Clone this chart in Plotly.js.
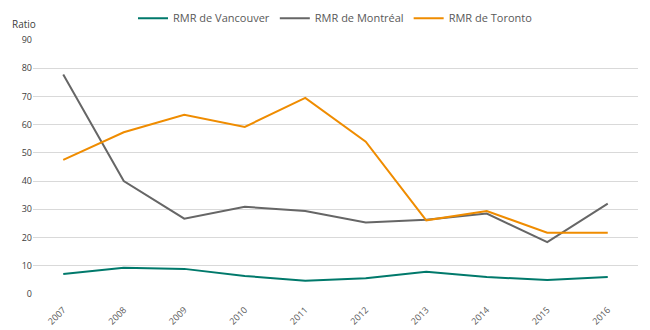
<!DOCTYPE html>
<html>
<head>
<meta charset="utf-8">
<script src="https://cdn.plot.ly/plotly-3.0.1.min.js"></script>
<style>html,body{margin:0;padding:0;background:#fff;}#chart{width:650px;height:330px;}</style>
</head>
<body>
<div id="chart"></div>
<script>
var years = ['2007','2008','2009','2010','2011','2012','2013','2014','2015','2016'];
var vancouver = [7.1, 9.3, 8.9, 6.4, 4.7, 5.6, 7.9, 6.0, 5.0, 6.0];
var montreal = [77.8, 40.0, 26.7, 30.9, 29.4, 25.3, 26.3, 28.5, 18.4, 32.0];
var toronto = [47.5, 57.3, 63.5, 59.2, 69.5, 54.0, 26.1, 29.4, 21.7, 21.7];
var names = ['RMR de Vancouver', 'RMR de Montréal', 'RMR de Toronto'];
var colors = ['#00796b', '#666666', '#ef8c00'];
var series = [vancouver, montreal, toronto];

var traces = series.map(function(s, i) {
  return {x: years, y: s, name: names[i], type: 'scatter', mode: 'lines',
    line: {color: colors[i], width: 2}};
});

var layout = {
  width: 650, height: 330,
  margin: {l: 33, r: 12, t: 40, b: 36},
  paper_bgcolor: '#ffffff', plot_bgcolor: '#ffffff',
  font: {family: 'Open Sans, Noto Sans, sans-serif', size: 10, color: '#404040'},
  showlegend: true,
  legend: {orientation: 'h', x: 0.5, xanchor: 'center', yref: 'container', y: 0.945, yanchor: 'middle',
    font: {size: 11, color: '#595959'}, itemwidth: 30, tracegroupgap: 0},
  xaxis: {type: 'category', range: [-0.5, 9.5], showgrid: false, zeroline: false,
    showline: false, ticks: '', tickangle: -45, ticklabelstandoff: 8,
    tickfont: {size: 9, color: '#595959'}, automargin: false},
  yaxis: {range: [0, 90], dtick: 10, showgrid: true, gridcolor: '#d9d9d9', gridwidth: 1,
    zeroline: false, showline: false, ticks: '', tickfont: {size: 9, color: '#404040'}},
  annotations: [{text: 'Ratio', xref: 'paper', yref: 'paper', x: -0.038, y: 1.063,
    xanchor: 'left', yanchor: 'middle', showarrow: false, font: {size: 10, color: '#404040'}}]
};

Plotly.newPlot('chart', traces, layout, {displayModeBar: false, staticPlot: true});
</script>
</body>
</html>
